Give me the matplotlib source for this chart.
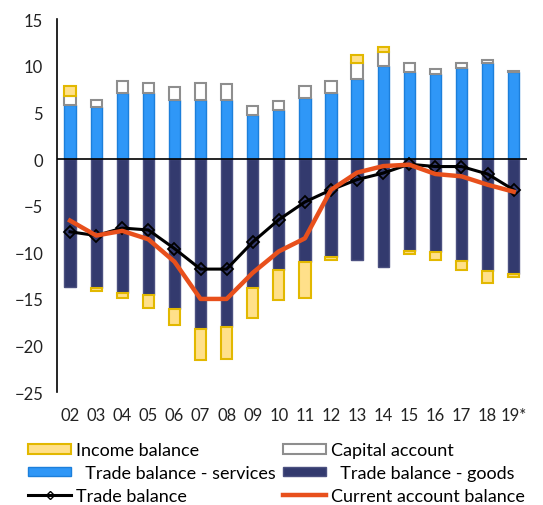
import numpy as np
import matplotlib
matplotlib.use("Agg")
import matplotlib.pyplot as plt
from matplotlib.patches import Patch
from matplotlib.lines import Line2D

plt.rcParams['font.family'] = ['Lato', 'DejaVu Sans']

years = ["02", "03", "04", "05", "06", "07", "08", "09", "10", "11",
         "12", "13", "14", "15", "16", "17", "18", "19*"]
services = [5.8, 5.6, 7.05, 7.05, 6.35, 6.35, 6.35, 4.7, 5.3, 6.55,
            7.05, 8.55, 10.0, 9.3, 9.1, 9.8, 10.35, 9.3]
capital = [1.0, 0.75, 1.3, 1.15, 1.35, 1.85, 1.7, 0.95, 0.95, 1.3,
           1.3, 1.8, 1.45, 1.05, 0.55, 0.55, 0.25, 0.2]
goods = [-13.75, -13.85, -14.4, -14.6, -16.05, -18.2, -18.05, -13.85, -11.85, -11.05,
         -10.55, -10.85, -11.6, -9.85, -10.0, -10.9, -12.05, -12.35]
income = [1.0, -0.25, -0.45, -1.4, -1.7, -3.4, -3.35, -3.2, -3.3, -3.9,
          -0.3, 0.8, 0.6, -0.3, -0.85, -1.05, -1.2, -0.3]
trade_balance = [-7.8, -8.2, -7.4, -7.6, -9.6, -11.8, -11.8, -8.9, -6.5, -4.6,
                 -3.3, -2.2, -1.5, -0.55, -0.8, -0.8, -1.6, -3.3]
current_account = [-6.6, -8.2, -7.7, -8.6, -11.0, -15.0, -15.0, -12.2, -9.9, -8.5,
                   -3.3, -1.45, -0.75, -0.6, -1.6, -1.85, -2.75, -3.5]

x = np.arange(len(years))
services = np.array(services)
capital = np.array(capital)
goods = np.array(goods)
income = np.array(income)

c_serv, e_serv = "#2F97F7", "#1C7FDB"
c_goods, e_goods = "#333A6E", "#4B5080"
c_inc, e_inc = "#FFE08A", "#E2B800"
c_cap, e_cap = "white", "#8E8E8E"
c_ca = "#E8501C"

fig = plt.figure(figsize=(5.43, 5.06), dpi=100)
ax = fig.add_axes([0.105, 0.223, 0.865, 0.737])

w = 0.43
ax.bar(x, services, w, color=c_serv, edgecolor=e_serv, linewidth=1)
ax.bar(x, capital, w, bottom=services, color=c_cap, edgecolor=e_cap, linewidth=1.5)
ax.bar(x, goods, w, color=c_goods, edgecolor=e_goods, linewidth=1)
inc_bottom = np.where(income > 0, services + capital, goods)
ax.bar(x, income, w, bottom=inc_bottom, color=c_inc, edgecolor=e_inc, linewidth=1.5)

ax.plot(x, trade_balance, color="black", linewidth=2.2, marker="D", markersize=6,
        markerfacecolor="none", markeredgecolor="black", markeredgewidth=1.3, zorder=4)
ax.plot(x, current_account, color=c_ca, linewidth=3.2, zorder=5)

ax.axhline(0, color="black", linewidth=1.2, zorder=3)

ax.set_xlim(-0.5, len(years) - 0.5)
ax.set_ylim(-25, 15)
ax.set_yticks(range(-25, 16, 5))
ax.set_xticks(x)
ax.set_xticklabels(years)
ax.tick_params(axis="both", length=0, labelsize=12, colors="#222222")
ax.tick_params(axis="x", pad=11)
ax.tick_params(axis="y", pad=10)
for s in ["top", "right", "bottom"]:
    ax.spines[s].set_visible(False)
ax.spines["left"].set_linewidth(1.2)

handles = [
    Patch(facecolor=c_inc, edgecolor=e_inc, linewidth=1.5),
    Patch(facecolor=c_serv, edgecolor=e_serv),
    Line2D([], [], color="black", linewidth=2.2, marker="D", markersize=4,
           markerfacecolor="none"),
    Patch(facecolor=c_cap, edgecolor=e_cap, linewidth=1.5),
    Patch(facecolor=c_goods, edgecolor=e_goods),
    Line2D([], [], color=c_ca, linewidth=3.2),
]
labels = ["Income balance", "  Trade balance - services", "Trade balance",
          "Capital account", "  Trade balance - goods", "Current account balance"]
fig.legend(handles, labels, loc="lower left", bbox_to_anchor=(0.038, -0.012), ncol=2,
           frameon=False, fontsize=13, handlelength=2.4, handleheight=0.45,
           handletextpad=0.25, columnspacing=0.4, labelspacing=0.38,
           borderaxespad=0)

fig.savefig("out.png", dpi=100)
